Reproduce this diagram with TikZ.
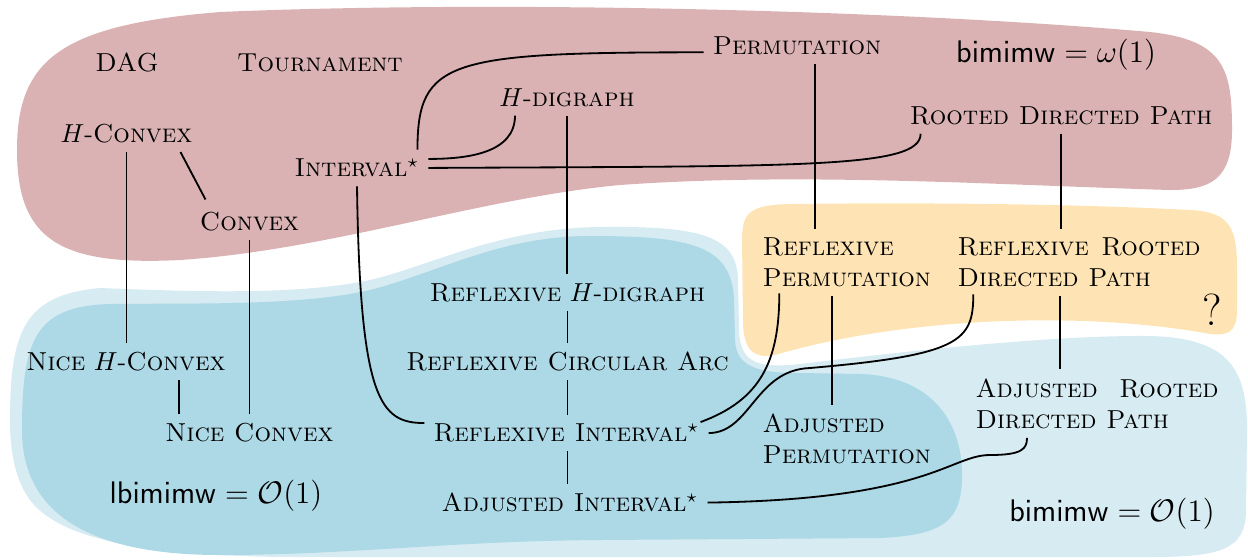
\documentclass[tikz,border=0pt]{standalone}
\usetikzlibrary{calc}
\definecolor{redreg}{RGB}{218,178,179}
\definecolor{blueout}{RGB}{214,235,242}
\definecolor{bluein}{RGB}{173,216,230}
\definecolor{yellowreg}{RGB}{254,228,180}
\begin{document}
\begin{tikzpicture}[x=0.3846pt,y=-0.3846pt,
  lbl/.style={anchor=base},
  two/.style={anchor=base west,align=left},
  conn/.style={line width=0.7pt}]
\useasboundingbox (0,0) rectangle (1248,559);
% regions
\fill[blueout] (10,420) .. controls (10,330) and (25,295) .. (100,288)
  .. controls (200,292) and (300,295) .. (370,280)
  .. controls (430,266) and (500,228) .. (600,227)
  .. controls (700,226) and (737,235) .. (738,280) -- (739,330)
  .. controls (740,365) and (760,368) .. (800,364)
  .. controls (900,352) and (1050,335) .. (1150,336)
  .. controls (1230,338) and (1247,370) .. (1247,430) -- (1246,510)
  .. controls (1246,550) and (1220,557) .. (1150,557) -- (300,557)
  .. controls (150,557) and (60,540) .. (30,500)
  .. controls (15,480) and (10,450) .. (10,420) -- cycle;
\fill[bluein] (22,430) .. controls (22,340) and (35,306) .. (110,304)
  .. controls (200,303) and (300,306) .. (370,290)
  .. controls (440,272) and (500,236) .. (590,236)
  .. controls (690,236) and (732,245) .. (734,300) -- (735,340)
  .. controls (736,368) and (760,373) .. (800,373) -- (860,374)
  .. controls (930,376) and (962,420) .. (962,475)
  .. controls (962,520) and (945,535) .. (880,538) -- (600,540)
  .. controls (450,541) and (350,555) .. (220,555)
  .. controls (100,555) and (22,520) .. (22,430) -- cycle;
\fill[redreg] (17,150) .. controls (17,60) and (60,25) .. (220,12)
  .. controls (500,0) and (900,10) .. (1150,32)
  .. controls (1225,40) and (1232,70) .. (1232,130)
  .. controls (1232,180) and (1210,190) .. (1170,190)
  .. controls (1000,185) and (800,172) .. (620,185)
  .. controls (480,198) and (330,250) .. (180,260)
  .. controls (60,266) and (17,240) .. (17,150) -- cycle;
\fill[yellowreg] (742,240) .. controls (742,212) and (750,205) .. (790,204)
  .. controls (950,202) and (1100,205) .. (1190,210)
  .. controls (1232,212) and (1237,230) .. (1237,270) -- (1237,310)
  .. controls (1237,332) and (1228,336) .. (1210,334)
  .. controls (1080,310) and (900,318) .. (775,355)
  .. controls (750,360) and (743,345) .. (743,320) -- cycle;
% nodes
\node[lbl] (dag) at (127,71) {\textsc{DAG}};
\node[lbl] (tour) at (320,71) {\textsc{Tournament}};
\node[lbl] (perm) at (797,54.3) {\textsc{Permutation}};
\node[lbl] (wone) at (1056,62.7) {\large $\mathsf{bimimw} = \omega(1)$};
\node[lbl] (hdig) at (567,106) {$H$-\textsc{digraph}};
\node[lbl] (rdp) at (1061,124) {\textsc{Rooted Directed Path}};
\node[lbl] (hconvex) at (126.5,142.3) {$H$-\textsc{Convex}};
\node[lbl] (interval) at (357,176.7) {\textsc{Interval}$^\star$};
\node[lbl] (convex) at (249.5,230) {\textsc{Convex}};
\node[two] (rperm) at (753.3,286.7) {\textsc{Reflexive}\\\textsc{Permutation}};
\node[two] (rrdp) at (948.3,286.7) {\makebox[93.5pt][s]{\scshape Reflexive Rooted}\\\textsc{Directed Path}};
\node[lbl] (q) at (1212,325) {\LARGE ?};
\node[lbl] (rhdig) at (567.5,301) {\textsc{Reflexive} $H$-\textsc{digraph}};
\node[lbl] (nhconvex) at (126,370.7) {\textsc{Nice} $H$-\textsc{Convex}};
\node[lbl] (rca) at (567.5,370.7) {\textsc{Reflexive Circular Arc}};
\node[two] (ardp) at (966.3,428.3) {\makebox[93.5pt][s]{\scshape Adjusted Rooted}\\\textsc{Directed Path}};
\node[lbl] (nconvex) at (249.5,441.7) {\textsc{Nice Convex}};
\node[lbl] (refint) at (566.5,441.7) {\textsc{Reflexive Interval}$^\star$};
\node[two] (aperm) at (753.3,463.5) {\textsc{Adjusted}\\\textsc{Permutation}};
\node[lbl] (lone) at (216,503) {\large $\mathsf{lbimimw} = \mathcal{O}(1)$};
\node[lbl] (adjint) at (570,511.7) {\textsc{Adjusted Interval}$^\star$};
\node[lbl] (bone) at (1112,521.7) {\large $\mathsf{bimimw} = \mathcal{O}(1)$};
% connectors
\coordinate (m18) at (810,368);
\coordinate (m19) at (990,455);
\draw[conn] (hconvex.south) -- (hconvex.south |- nhconvex.north);
\draw[conn] ($(hconvex.south)+(54,0)$) -- ($(convex.north)+(-44,-3)$);
\draw[conn] (convex.south) -- (convex.south |- nconvex.north);
\draw[conn] ($(nhconvex.south)+(53,0)$) coordinate (e4) -- (e4 |- nconvex.north);
\draw[conn] ($(interval.north east)+(-11,0)$) .. controls +(0,-90) and +(-255,0) .. ($(perm.base west)+(0,-2)$);
\draw[conn] ($(interval.east)+(0,-9)$) .. controls +(38,0) and +(0,38) .. ($(hdig.south)+(-52,0)$);
\draw[conn] (interval.east) .. controls +(372,-2) and +(0,35) .. ($(rdp.south west)+(20,0)$);
\draw[conn] (hdig.south) -- (hdig.south |- rhdig.north);
\draw[conn] (rhdig.south) -- (rhdig.south |- rca.north);
\draw[conn] (rca.south) -- (rca.south |- refint.north);
\draw[conn] (rca.south |- refint.south) -- (rca.south |- adjint.north);
\draw[conn] ($(perm.south)+(18,0)$) coordinate (e12) -- (e12 |- rperm.north);
\draw[conn] (rdp.south) -- (rdp.south |- rrdp.north);
\draw[conn] ($(rperm.south west)+(79,0)$) coordinate (e14) -- (e14 |- aperm.north);
\draw[conn] ($(rrdp.south west)+(111.7,0)$) coordinate (e15) -- (e15 |- ardp.north);
\draw[conn] (interval.south) .. controls +(3,215) and +(-44,0) .. ($(refint.west)+(0,-10)$);
\draw[conn] ($(refint.east)+(-8,-11)$) .. controls +(60,-22) and +(0,68) .. ($(rperm.south west)+(26,-3)$);
\draw[conn] (refint.east) .. controls +(42,0) and +(-55,2) .. (m18) .. controls +(150,-13) and +(0,47) .. ($(rrdp.south west)+(25,-2)$);
\draw[conn] (adjint.east) .. controls +(222,-3) and +(-40,0) .. (m19) .. controls +(32,0) and +(0,11) .. ($(ardp.south west)+(60.7,0)$);
\end{tikzpicture}
\end{document}
